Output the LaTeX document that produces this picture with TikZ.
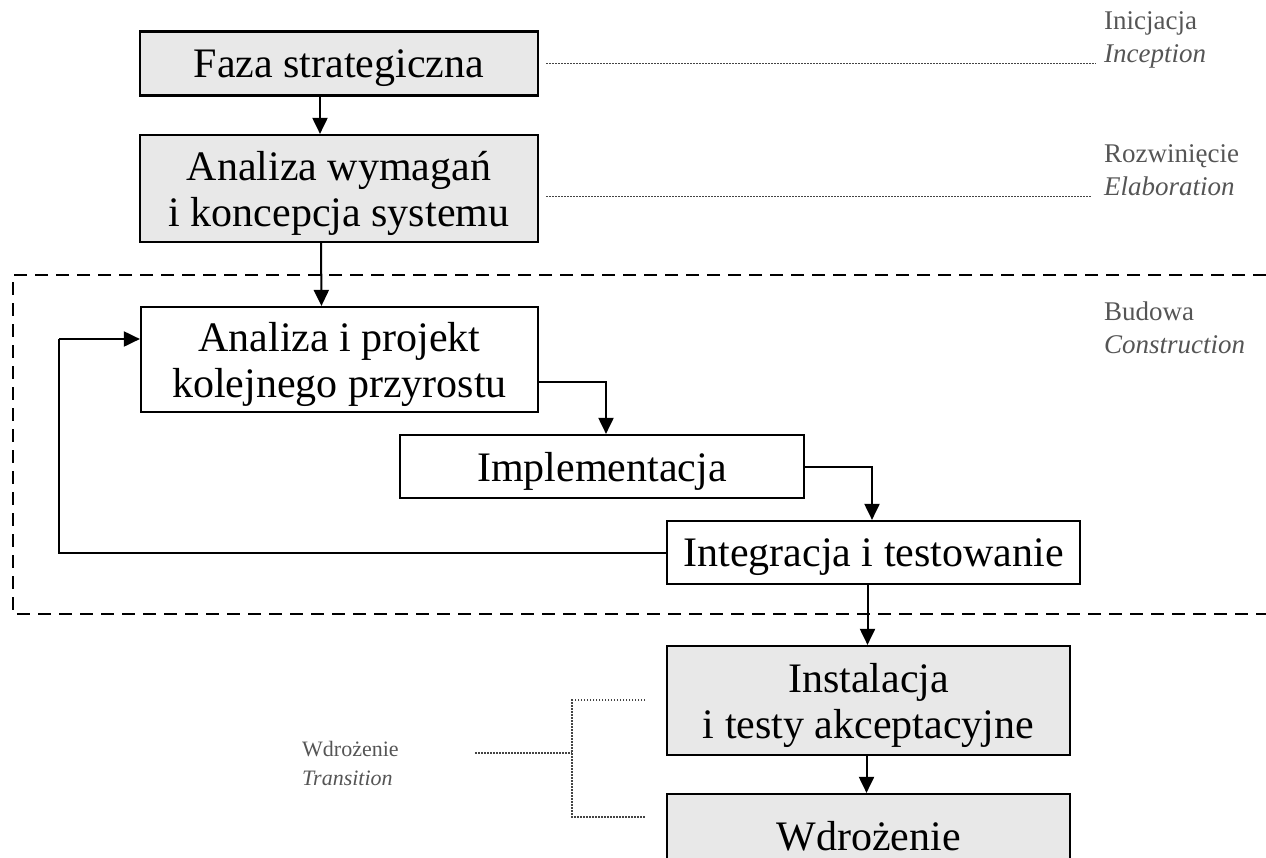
\documentclass[tikz,border=0pt]{standalone}
\usepackage{fontspec}
\setmainfont{Liberation Serif}
\usetikzlibrary{arrows.meta}
\definecolor{boxgray}{HTML}{E8E8E8}
\definecolor{labgray}{HTML}{555555}
\definecolor{dotgray}{HTML}{444444}
\begin{document}
\begin{tikzpicture}[x=1pt,y=-1pt,
  phase/.style={draw=black,line width=2.2pt,inner sep=0pt},
  grayphase/.style={phase,fill=boxgray},
  whitephase/.style={phase,fill=white},
  phasetext/.style={inner sep=0pt,align=center,yshift=-5pt,
    font=\fontsize{42}{46}\selectfont},
  flow/.style={line width=2pt,-{Triangle[length=16pt,width=15pt]}},
  plain/.style={line width=2pt},
  dotline/.style={line width=1.5pt,dotgray,dash pattern=on 1.5pt off 1.5pt},
  stage/.style={labgray,align=left,inner sep=0pt,anchor=west,
    font=\fontsize{27}{33}\selectfont},
  smallstage/.style={stage,font=\fontsize{22}{29}\selectfont},
  groupline/.style={line width=1.6pt,dash pattern=on 13pt off 8pt}]
\useasboundingbox (0,0) rectangle (1266,857);
\clip (0,0) rectangle (1266,857);

% construction group frame (open to the right)
\draw[groupline] (1266,275) -- (13,275) -- (13,614) -- (1266,614);

% phases
\node[grayphase,minimum width=398pt,minimum height=64pt,
  label={[name=b1t,phasetext]center:Faza strategiczna}] (b1) at (339,63.5) {};
\node[grayphase,minimum width=398pt,minimum height=107pt,
  label={[name=b2t,phasetext]center:Analiza wymagań\\i koncepcja systemu}] (b2) at (339,188.5) {};
\node[whitephase,minimum width=397pt,minimum height=105pt,
  label={[name=b3t,phasetext]center:Analiza i projekt\\kolejnego przyrostu}] (b3) at (339.5,359.5) {};
\node[whitephase,minimum width=404pt,minimum height=63pt,
  label={[name=implt,phasetext]center:Implementacja}] (impl) at (602,466.5) {};
\node[whitephase,minimum width=413pt,minimum height=63pt,
  label={[name=integt,phasetext]center:Integracja i testowanie}] (integ) at (873.5,552.5) {};
\node[grayphase,minimum width=403pt,minimum height=109pt,
  label={[name=instt,phasetext]center:Instalacja\\i testy akceptacyjne}] (inst) at (868.5,700.5) {};
\node[grayphase,minimum width=403pt,minimum height=74pt,
  label={[name=wdt,phasetext]center:Wdrożenie}] (wd) at (868.5,831) {};

% flow between phases
\draw[flow] ([xshift=-19pt]b1.south) -- ([xshift=-19pt]b2.north);
\draw[flow] ([xshift=-18pt]b2.south) -- ([xshift=-18pt]b3.north);
\draw[flow] ([yshift=-22.5pt]b3.east) -| ([xshift=4pt]impl.north);
\draw[flow] (impl.east) -| ([xshift=-1.5pt]integ.north);
\draw[flow] ([xshift=-6pt]integ.south) -- ([xshift=-6pt]integ.south |- inst.north);
\draw[flow] ([xshift=-2pt]inst.south) -- ([xshift=-2pt]wd.north);

% iteration loop back
\coordinate (loop) at (59,339);
\draw[plain] (integ.west) -| (loop);
\draw[flow] (loop) -- (loop -| b3.west);

% stage labels
\node[stage] (l1) at (1104,39.5) {Inicjacja\\\textit{Inception}};
\node[stage] (l2) at (1104,170.5) {Rozwinięcie\\\textit{Elaboration}};
\node[stage] (l3) at (1104,328) {Budowa\\\textit{Construction}};
\node[smallstage] (l4) at (302,763) {Wdrożenie\\\textit{Transition}};

\draw[dotline] ([xshift=7pt]b1.east) -- ([xshift=-8pt]b1.east -| l1.west);
\draw[dotline] ([xshift=7pt,yshift=-8pt]b2.east) -- ([xshift=-12pt,yshift=-8pt]b2.east -| l2.west);

% transition bracket
\coordinate (tj) at (572,753);
\coordinate (tt) at (645,700);
\coordinate (tb) at (645,817);
\draw[dotline] (475,753) -- (tj);
\draw[dotline] (tt) -| (tj) |- (tb);
\end{tikzpicture}
\end{document}
